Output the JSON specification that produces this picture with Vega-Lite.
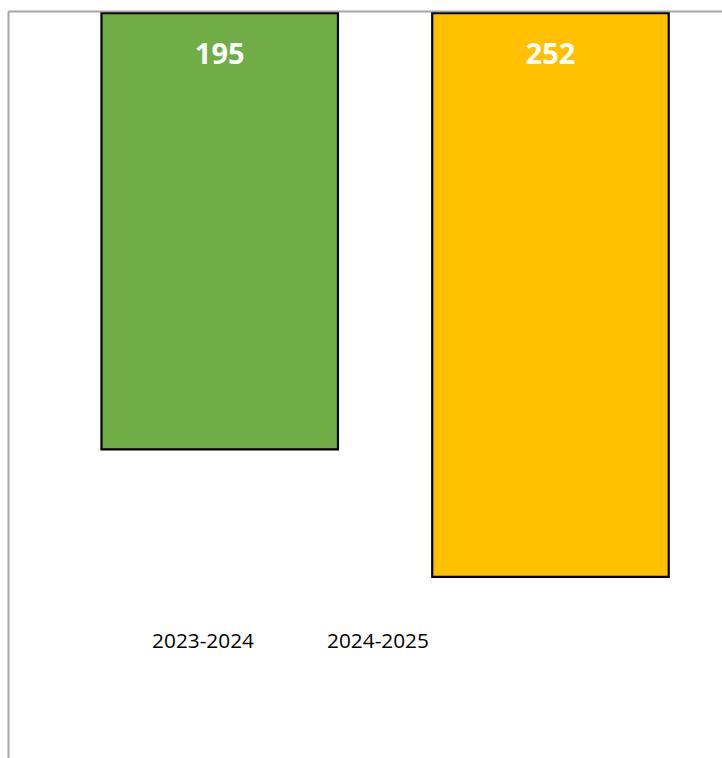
{
  "$schema": "https://vega.github.io/schema/vega-lite/v6.json",
  "autosize": {"type": "none"},
  "padding": {"left": 8, "top": 11, "right": 0, "bottom": 0},
  "width": 714,
  "height": 747,
  "background": "#ffffff",
  "config": {"view": {"stroke": null}},
  "data": {
    "values": [
      {"period": "2023-2024", "value": 195},
      {"period": "2024-2025", "value": 252}
    ]
  },
  "encoding": {
    "x": {
      "field": "period",
      "type": "nominal",
      "sort": null,
      "scale": {"paddingInner": 0.285, "paddingOuter": 0.2218, "align": 0.637},
      "axis": {
        "orient": "bottom",
        "title": null,
        "domain": false,
        "ticks": false,
        "tickSize": 0,
        "labelAngle": 0,
        "labelBaseline": "alphabetic",
        "labelPadding": -111,
        "labelFont": "Open Sans",
        "labelFontSize": 20.8,
        "labelColor": "#000000",
        "labelOverlap": false,
        "labelOffset": {"condition": {"test": "datum.value == '2023-2024'", "value": -16.7}, "value": -172.5}
      }
    }
  },
  "layer": [
    {
      "mark": {"type": "bar", "stroke": "#000000", "strokeWidth": 2.2},
      "encoding": {
        "y": {
          "field": "value",
          "type": "quantitative",
          "scale": {"domain": [-1, 333], "reverse": true, "nice": false},
          "axis": {
            "title": null,
            "labels": false,
            "ticks": false,
            "domain": true,
            "domainColor": "#a6a6a6",
            "domainWidth": 2,
            "grid": true,
            "gridColor": "#a6a6a6",
            "gridWidth": 2,
            "values": [-1]
          }
        },
        "color": {
          "field": "period",
          "type": "nominal",
          "scale": {"domain": ["2023-2024", "2024-2025"], "range": ["#70AD47", "#FFC000"]},
          "legend": null
        }
      }
    },
    {
      "mark": {"type": "text", "font": "Open Sans", "fontWeight": "bold", "fontSize": 29, "color": "#ffffff", "baseline": "middle", "align": "center", "dy": 42},
      "encoding": {
        "y": {"datum": 0, "type": "quantitative"},
        "text": {"field": "value", "type": "quantitative"}
      }
    }
  ]
}
